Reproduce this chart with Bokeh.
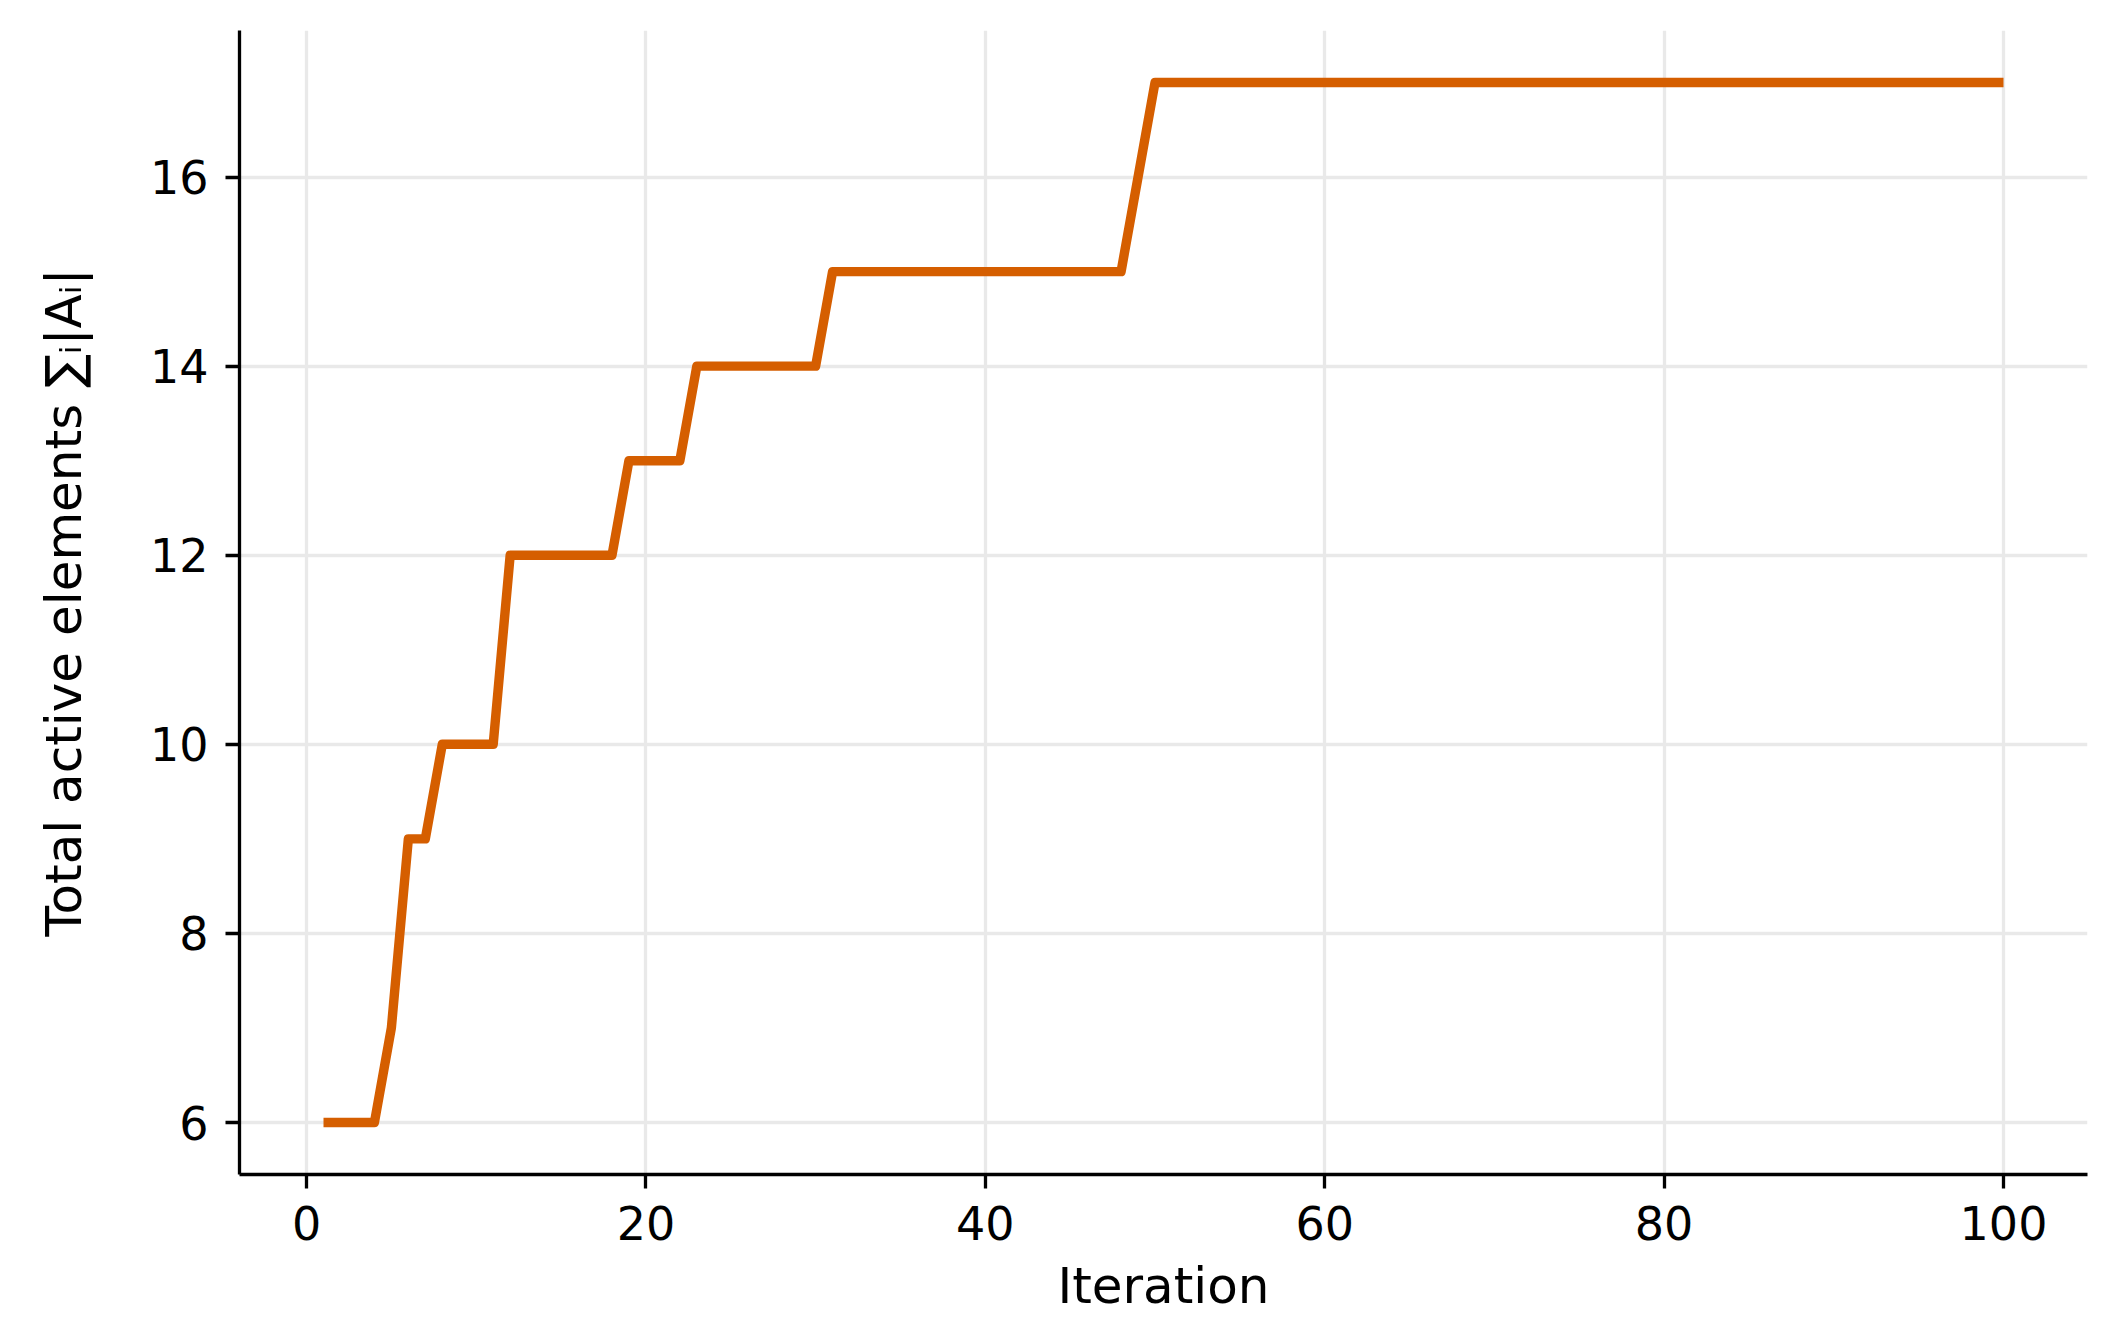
from bokeh.plotting import figure
from bokeh.models import Range1d, FixedTicker, ColumnDataSource
from bokeh.embed import file_html
from bokeh.resources import INLINE

# Data
iterations = list(range(1, 101))
active_elements = (
    [6, 6, 6, 6, 7, 9, 9, 10, 10, 10, 10]          # 1..11
    + [12] * 7                                      # 12..18
    + [13] * 4                                      # 19..22
    + [14] * 8                                      # 23..30
    + [15] * 18                                     # 31..48
    + [16]                                          # 49
    + [17] * 51                                     # 50..100
)
x_ticks = [0, 20, 40, 60, 80, 100]
y_ticks = [6, 8, 10, 12, 14, 16]

x_label = "Iteration"
y_label = "Total active elements \u2211\u1d62|A\u1d62|"

src = ColumnDataSource(dict(x=iterations, y=active_elements))

p = figure(
    width=2099, height=1327,
    output_backend="svg", toolbar_location=None,
    x_range=Range1d(-3.95, 104.95), y_range=Range1d(5.45, 17.55),
    min_border_left=239, min_border_right=12,
    min_border_top=30, min_border_bottom=153,
)
p.background_fill_color = "white"
p.border_fill_color = "white"
p.outline_line_color = None

p.line("x", "y", source=src, line_color="#D55E00", line_width=9.4,
       line_join="round")

for ax, ticks in ((p.xaxis, x_ticks), (p.yaxis, y_ticks)):
    ax.ticker = FixedTicker(ticks=ticks)
    ax.axis_line_color = "black"
    ax.axis_line_width = 3.3
    ax.major_tick_line_color = "black"
    ax.major_tick_line_width = 3.3
    ax.major_tick_out = 14
    ax.major_tick_in = 0
    ax.minor_tick_line_color = None
    ax.major_label_text_font = "DejaVu Sans"
    ax.major_label_text_font_size = "46px"
    ax.major_label_text_color = "black"
    ax.axis_label_text_font = "DejaVu Sans"
    ax.axis_label_text_font_size = "50px"
    ax.axis_label_text_font_style = "normal"
    ax.axis_label_text_color = "black"

p.xaxis.axis_label = x_label
p.yaxis.axis_label = y_label
p.xaxis.major_label_standoff = 17
p.yaxis.major_label_standoff = 17
p.xaxis.axis_label_standoff = 14
p.yaxis.axis_label_standoff = 54

p.xgrid.ticker = FixedTicker(ticks=x_ticks)
p.ygrid.ticker = FixedTicker(ticks=y_ticks)
for g in (p.xgrid, p.ygrid):
    g.grid_line_color = "#e9e9e9"
    g.grid_line_width = 3.3

open("out.html", "w").write(file_html(p, INLINE))
